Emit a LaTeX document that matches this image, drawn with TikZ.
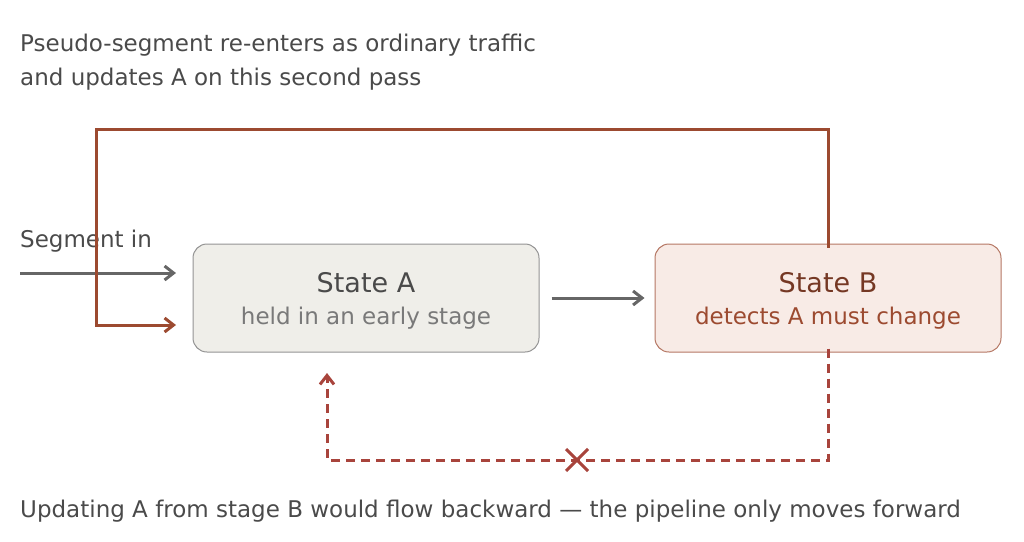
\documentclass[tikz,border=0pt]{standalone}
\usepackage{fontspec}
\setmainfont{DejaVu Sans}
\usetikzlibrary{arrows.meta,positioning}
\definecolor{inkgray}{HTML}{4A4A4A}
\definecolor{arrgray}{HTML}{666666}
\definecolor{rust}{HTML}{9C4A30}
\definecolor{dashred}{HTML}{A8443C}
\definecolor{afill}{HTML}{EFEEE9}
\definecolor{bfill}{HTML}{F8EBE6}
\begin{document}
\begin{tikzpicture}[x=1pt,y=-1pt,
  statebox/.style={draw,rounded corners=14pt,minimum width=346pt,minimum height=108pt,line width=1pt},
  caption/.style={anchor=west,inner sep=0pt,text=inkgray,font=\fontsize{23}{34}\selectfont,align=left},
  flow/.style={-{Straight Barb[length=9pt,width=14pt]},line width=3pt}]
  \useasboundingbox (0,0) rectangle (1024,541);
  % boxes
  \node [statebox,draw=gray!85,fill=afill] (a) at (366,298) {};
  \node [statebox,draw=rust!75,fill=bfill] (b) at (828,298) {};
  \node [text=inkgray,font=\fontsize{27}{30}\selectfont] at (366,283) {State A};
  \node [text=gray!95!black,font=\fontsize{23}{26}\selectfont] at (366,318) {held in an early stage};
  \node [text=rust!75!black,font=\fontsize{27}{30}\selectfont] at (828,283) {State B};
  \node [text=rust,font=\fontsize{23}{26}\selectfont] at (828,318) {detects A must change};
  % labels
  \node [caption] (top) at (20,62) {Pseudo-segment re-enters as ordinary traffic\\and updates A on this second pass};
  \node [caption] (seg) at (20,241) {Segment in};
  \node [caption] (bot) at (20,511) {Updating A from stage B would flow backward — the pipeline only moves forward};
  % connectors
  \coordinate (in0) at (20,273);
  \coordinate (in1) at (176,273);
  \coordinate (fb) at (176,325);
  \draw [flow,arrgray] (in0) -- (in1);
  \draw [flow,arrgray] ([xshift=12pt]a.east) -- ([xshift=-10pt]b.west);
  \draw [flow,rust] ([yshift=-4pt]b.north) -- (828,129) -- (96,129) -- (96,325) -- (fb);
  \coordinate (up) at (327,373);
  \draw [dashred,line width=3pt,dash pattern=on 9pt off 6pt,-{Straight Barb[length=9pt,width=14pt]}]
    ([yshift=4pt]b.south) -- (828,460) -- (327,460) -- (up);
  \node [dashred] (x) at (577,460) {};
  \draw [dashred,line width=3pt] (566,449) -- (588,471) (566,471) -- (588,449);
\end{tikzpicture}
\end{document}
